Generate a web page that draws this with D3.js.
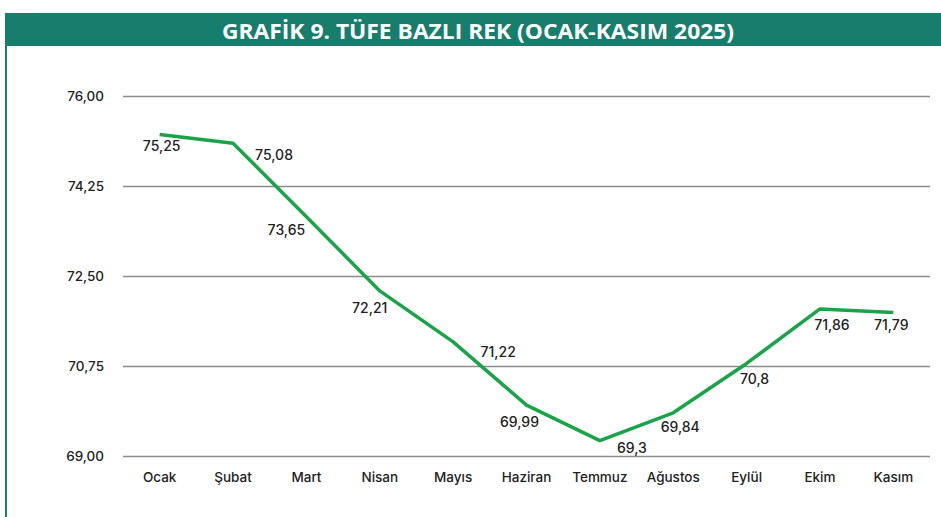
<!DOCTYPE html>
<html><head><meta charset="utf-8">
<script src="https://cdn.jsdelivr.net/npm/d3@7"></script>
<style>
html,body{margin:0;padding:0;background:#fff;}
svg{display:block;}
</style></head>
<body>
<script>
const title = "GRAFİK 9. TÜFE BAZLI REK (OCAK-KASIM 2025)";
const months = ["Ocak","Şubat","Mart","Nisan","Mayıs","Haziran","Temmuz","Ağustos","Eylül","Ekim","Kasım"];
const rek = [75.25,75.08,73.65,72.21,71.22,69.99,69.3,69.84,70.8,71.86,71.79];
const valueLabels = ["75,25","75,08","73,65","72,21","71,22","69,99","69,3","69,84","70,8","71,86","71,79"];
const yTicks = [69.00,70.75,72.50,74.25,76.00];
// label offsets (styling only) relative to each point
const labelDx = [2,41,-20,-10,45,-7,32,7,8,12,-2];
const labelDy = [11,11,13,17,10,16,7,14,15,16,12];

const W = 941, H = 517;
const svg = d3.select("body").append("svg").attr("width",W).attr("height",H);
const teal = "#177d6c";

// title bar
svg.append("rect").attr("x",5).attr("y",13).attr("width",W-5).attr("height",33).attr("fill",teal);
svg.append("line").attr("x1",6).attr("x2",6).attr("y1",46).attr("y2",H).attr("stroke",teal).attr("stroke-width",2);
const t = svg.append("text").attr("x",478).attr("y",30).attr("text-anchor","middle")
  .attr("dominant-baseline","central").attr("fill","#fff")
  .style("font-family","'Liberation Sans Narrow','Open Sans',sans-serif")
  .style("font-weight","bold").style("font-size","22px").text(title);
t.attr("textLength",512).attr("lengthAdjust","spacingAndGlyphs");

const x = d3.scaleBand().domain(months).range([123,930]).padding(0);
const y = d3.scaleLinear().domain([69,76]).range([456,96]);

const font = "'Inter','Lato',sans-serif";

// gridlines via axis
const gy = svg.append("g").attr("transform","translate(123,0)")
  .call(d3.axisLeft(y).tickValues(yTicks).tickSize(-807).tickPadding(19)
    .tickFormat(d => d3.format(".2f")(d).replace(".",",")));
gy.select(".domain").remove();
gy.selectAll(".tick line").attr("stroke","#8c8c8c").attr("stroke-width",1.5);
gy.selectAll(".tick text").attr("fill","#222").style("font-family",font)
  .style("font-size","13.5px").style("font-weight","500");

const gx = svg.append("g").attr("transform","translate(0,456)")
  .call(d3.axisBottom(x).tickSize(0).tickPadding(16));
gx.select(".domain").remove();
gx.selectAll(".tick text").attr("fill","#222").style("font-family",font)
  .style("font-size","13.5px").style("font-weight","500");

const cx = d => x(d) + x.bandwidth()/2;

svg.append("path").datum(rek)
  .attr("fill","none").attr("stroke","#1ba34a").attr("stroke-width",3.5)
  .attr("stroke-linejoin","round")
  .attr("d", d3.line().x((d,i)=>cx(months[i])).y(d=>y(d)));

svg.append("g").selectAll("text").data(rek).join("text")
  .attr("x",(d,i)=>cx(months[i]) + labelDx[i])
  .attr("y",(d,i)=>y(d) + labelDy[i])
  .attr("text-anchor","middle").attr("dominant-baseline","central")
  .attr("fill","#222").style("font-family",font).style("font-size","14px").style("font-weight","500")
  .text((d,i)=>valueLabels[i]);
</script>
</body></html>
